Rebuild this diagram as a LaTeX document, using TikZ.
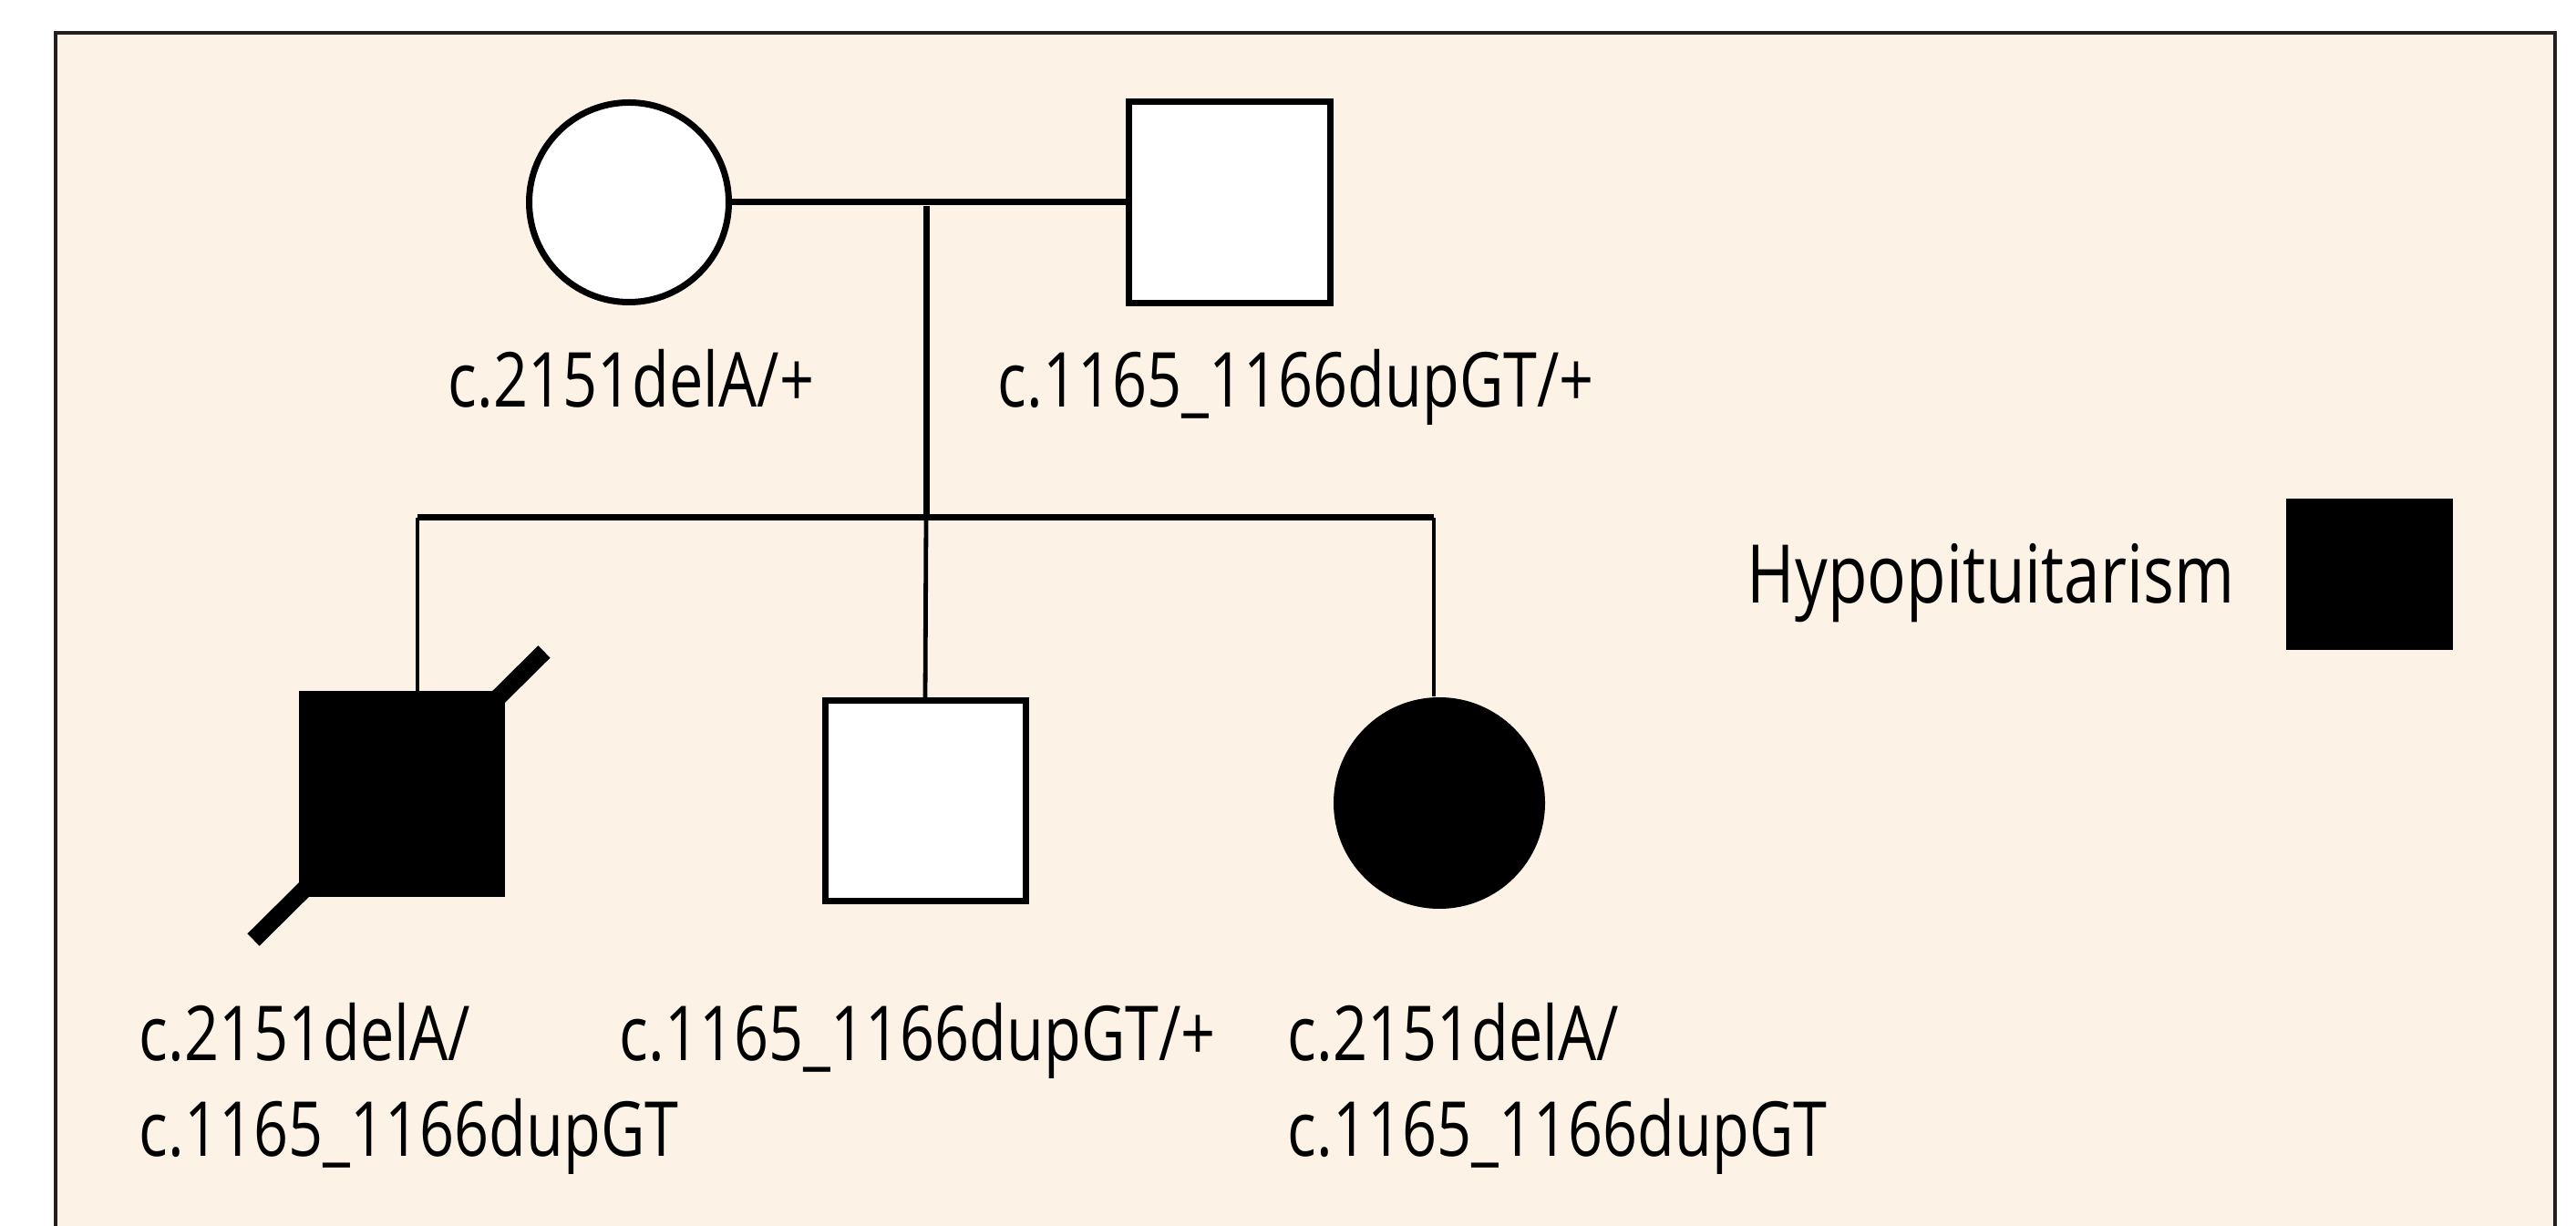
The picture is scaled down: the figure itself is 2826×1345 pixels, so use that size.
\documentclass[tikz,border=0pt]{standalone}
\usepackage{fontspec}
\setmainfont{Open Sans}[FakeStretch=0.8]
\definecolor{bgcol}{RGB}{252,242,230}
\definecolor{framecol}{RGB}{35,31,32}
\begin{document}
\begin{tikzpicture}[x=0.25pt,y=-0.25pt,
  person/.style={draw=black, line width=1.75pt, fill=white, inner sep=0pt},
  affected/.style={fill=black, inner sep=0pt},
  link/.style={line width=1.75pt},
  childlink/.style={line width=1.2pt},
  lbl/.style={inner sep=0pt, anchor=base west, align=left,
    font=\fontsize{20.8pt}{26.25pt}\selectfont},
  legendtxt/.style={inner sep=0pt, anchor=base west,
    font=\fontsize{22.2pt}{26pt}\selectfont}]
\path[use as bounding box] (0,0) rectangle (2826,1345);
\clip (0,0) rectangle (2826,1345);
\fill[white] (0,0) rectangle (2826,1345);
\draw[framecol, fill=bgcol, line width=0.85pt] (61,36) rectangle (2803,1420);

% parents
\node[person, circle, minimum size=54.75pt] (mother) at (690,222) {};
\node[person, rectangle, minimum size=55.25pt] (father) at (1349,222) {};
% children
\node[affected, rectangle, minimum size=56.5pt] (c1) at (440.5,871.5) {};
\node[person, rectangle, minimum size=55pt] (c2) at (1015,879) {};
\node[affected, circle, minimum size=58pt] (c3) at (1579,881) {};
% legend
\node[affected, rectangle, minimum width=45.75pt, minimum height=41.5pt] (legbox) at (2599.5,630) {};
\node[legendtxt] (legtext) at (1916,662) {Hypopituitarism};

% coordinates
\coordinate (desc) at (1016,226);
\coordinate (sibM) at (1016,568);
\coordinate (sibL) at (458,568);
\coordinate (sibR) at (1573,568);
\coordinate (dA) at (278,1031);
\coordinate (dB) at (597,715);

% connectors
\draw[link] (mother.east) -- (father.west);
\draw[link] (desc) -- (sibM);
\draw[link] (sibL) -- (sibR);
\draw[childlink] (sibL) -- (sibL |- c1.north);
\draw[childlink] (sibM) -- (c2.north);
\draw[childlink] (sibR) -- (sibR |- c3.north);
% deceased slash
\draw[line width=4.7pt] (dA) -- (dB);

% labels
\node[lbl] (lm) at (491,447) {c.2151delA/+};
\node[lbl] (lf) at (1094,447) {c.1165\_1166dupGT/+};
\node[lbl] (l1) at (152,1268) {c.2151delA/\\c.1165\_1166dupGT};
\node[lbl] (l2) at (679,1163) {c.1165\_1166dupGT/+};
\node[lbl] (l3) at (1412,1268) {c.2151delA/\\c.1165\_1166dupGT};
\end{tikzpicture}
\end{document}
